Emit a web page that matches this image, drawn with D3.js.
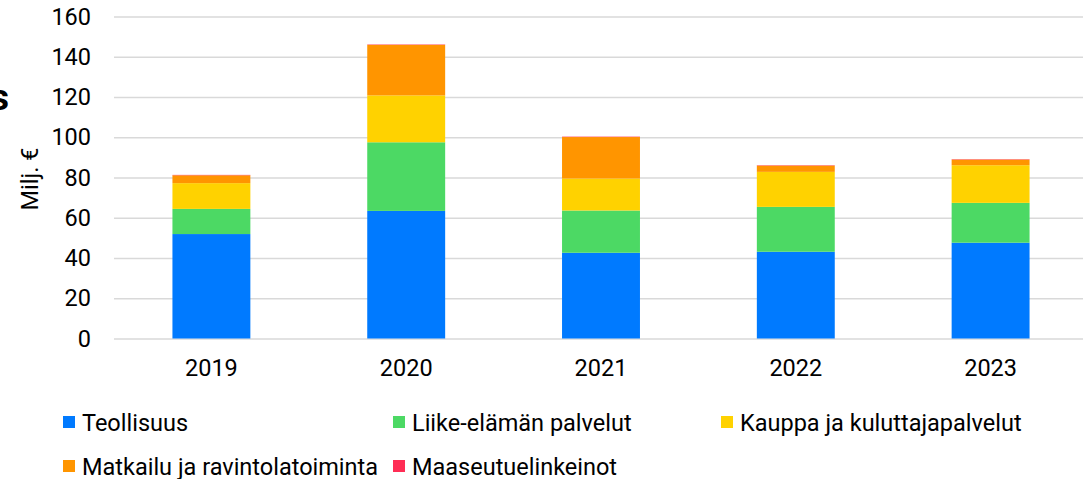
<!DOCTYPE html>
<html>
<head>
<meta charset="utf-8">
<script src="https://cdn.jsdelivr.net/npm/d3@7"></script>
<style>
  html, body { margin: 0; padding: 0; background: #fff; }
  svg { display: block; font-family: Roboto, "Noto Sans", sans-serif; }
</style>
</head>
<body>
<svg id="chart" width="1083" height="479"></svg>
<script>
const years = ["2019", "2020", "2021", "2022", "2023"];
const seriesNames = ["Teollisuus", "Liike-elämän palvelut", "Kauppa ja kuluttajapalvelut", "Matkailu ja ravintolatoiminta", "Maaseutuelinkeinot"];
const teollisuus = [51.9, 63.4, 42.6, 43.1, 47.6];
const liike = [12.5, 34.1, 21.0, 22.3, 19.8];
const kauppa = [12.8, 23.3, 15.9, 17.4, 18.7];
const matkailu = [3.9, 25.1, 20.6, 3.1, 2.8];
const maaseutu = [0.2, 0.2, 0.2, 0.2, 0.2];
const yTicks = [0, 20, 40, 60, 80, 100, 120, 140, 160];
const colors = ["#007AFF", "#4CD964", "#FFD200", "#FF9500", "#FF2D55"];

const seriesValues = [teollisuus, liike, kauppa, matkailu, maaseutu];
const rows = years.map((yr, i) => {
  const r = { year: yr };
  seriesNames.forEach((s, k) => r[s] = seriesValues[k][i]);
  return r;
});

const svg = d3.select("#chart");
const mLeft = 114, mRight = 1088, mTop = 16.5, mBottom = 338.5;
const fs = 23.5;

const x = d3.scaleBand().domain(years).range([mLeft, mRight]).paddingInner(0.6).paddingOuter(0.3);
const y = d3.scaleLinear().domain([0, 160]).range([mBottom, mTop]);

// gridlines
svg.append("g")
  .attr("transform", `translate(${mLeft},0)`)
  .call(d3.axisLeft(y).tickValues(yTicks).tickSize(-(mRight - mLeft)).tickFormat(""))
  .call(g => g.select(".domain").remove())
  .call(g => g.selectAll("line").attr("stroke", "#d9d9d9").attr("stroke-width", 1.5));

// y labels
svg.append("g")
  .attr("transform", `translate(91,0)`)
  .call(d3.axisLeft(y).tickValues(yTicks).tickSize(0).tickPadding(0))
  .call(g => g.select(".domain").remove())
  .call(g => g.selectAll("text").attr("font-size", fs).attr("fill", "#000").attr("font-family", "Roboto"));

// stacked bars
const stack = d3.stack().keys(seriesNames)(rows);
svg.append("g").selectAll("g").data(stack).join("g")
  .attr("fill", (d, i) => colors[i])
  .selectAll("rect").data(d => d).join("rect")
  .attr("x", d => x(d.data.year))
  .attr("width", x.bandwidth())
  .attr("y", d => y(d[1]))
  .attr("height", d => y(d[0]) - y(d[1]));

// x labels
svg.append("g")
  .attr("transform", `translate(0,${mBottom + 10})`)
  .call(d3.axisBottom(x).tickSize(0).tickPadding(11))
  .call(g => g.select(".domain").remove())
  .call(g => g.selectAll("text").attr("font-size", fs).attr("fill", "#000").attr("font-family", "Roboto"));

// y title
svg.append("text")
  .attr("transform", "translate(38,179) rotate(-90)")
  .attr("text-anchor", "middle")
  .attr("font-size", fs)
  .attr("fill", "#000")
  .text("Milj. €");

// clipped title fragment at left edge
svg.append("text")
  .attr("x", 9).attr("y", 110)
  .attr("text-anchor", "end")
  .attr("font-size", 36)
  .attr("font-weight", "bold")
  .attr("fill", "#000")
  .text("s");

// legend
const legendPos = [[63, 422], [393, 422], [721, 422], [63, 466], [393, 466]];
const lg = svg.append("g").selectAll("g").data(seriesNames).join("g")
  .attr("transform", (d, i) => `translate(${legendPos[i][0]},${legendPos[i][1]})`);
lg.append("rect").attr("x", 0).attr("y", -6).attr("width", 12).attr("height", 12)
  .attr("fill", (d, i) => colors[i]);
lg.append("text").attr("x", 19).attr("y", 8.5)
  .attr("font-size", fs).attr("fill", "#000")
  .text(d => d);
</script>
</body>
</html>
